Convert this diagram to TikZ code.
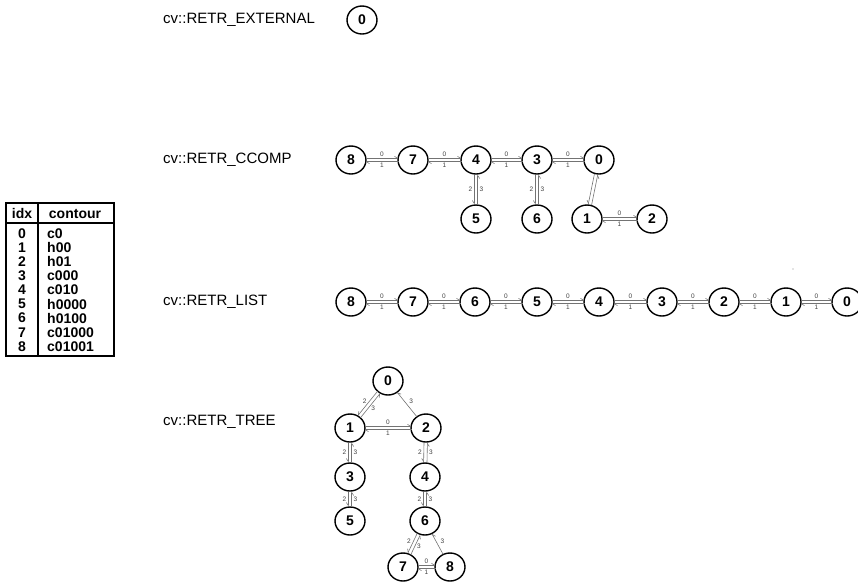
\documentclass[tikz,border=0pt]{standalone}
\usepackage{fontspec}
\setmainfont{Liberation Sans}
\usetikzlibrary{calc,arrows.meta,shapes.geometric}
\tikzset{
  st/.style={ellipse,draw,line width=1.4pt,minimum width=30pt,minimum height=28pt,inner sep=0pt,font=\fontsize{14}{14}\selectfont\bfseries},
  lab/.style={anchor=west,font=\fontsize{15}{17}\selectfont,inner sep=0pt},
  ed/.style={draw=black!55,line width=0.6pt,shorten <=14.5pt,shorten >=14.5pt},
  el/.style={font=\fontsize{6.5}{6.5}\selectfont,inner sep=0pt,text=black!75},
  hl/.style={-{Straight Barb[left,length=3pt,width=4pt]}},
  hr/.style={-{Straight Barb[right,length=3pt,width=4pt]}},
  tb/.style={font=\fontsize{14}{14}\selectfont\bfseries,inner sep=0pt},
}
\newcommand\dedge[7]{%
  \draw[ed,#7] ($(#1)!1.7pt!#3:(#2)$) -- ($(#2)!1.7pt!#4:(#1)$);
  \draw[ed,#7] ($(#2)!1.7pt!#3:(#1)$) -- ($(#1)!1.7pt!#4:(#2)$);
  \coordinate (mid) at ($(#1)!0.5!(#2)$);
  \node[el] at ($(mid)!5.5pt!#3:(#2)$) {#5};
  \node[el] at ($(mid)!5.5pt!#4:(#2)$) {#6};
}
\newcommand\sedge[3]{%
  \draw[ed,hr] (#1.center) -- (#2.center);
  \coordinate (mid) at ($(#1)!0.5!(#2)$);
  \node[el] at ($(mid)!5.5pt!#3:(#2)$) {3};
}
\begin{document}
\begin{tikzpicture}[x=1pt,y=-1pt]
\useasboundingbox (0,0) rectangle (858,582);

% table
\draw[line width=1.6pt] (6,203) rectangle (114,356);
\draw[line width=1.5pt] (38,203) -- (38,356);
\draw[line width=1.5pt] (6,223) -- (114,223);
\node[tb] (hidx) at (22,213.5) {idx};
\node[tb] (hcon) at (75,213.5) {contour};
\foreach \i/\c in {0/c0,1/h00,2/h01,3/c000,4/c010,5/h0000,6/h0100,7/c01000,8/c01001}{
  \node[tb] (ti\i) at (22,{233.5+14.1*\i}) {\i};
  \node[tb,anchor=west] (tc\i) at (47,{233.5+14.1*\i}) {\c};
}

% labels
\node[lab] (lext) at (163,20) {cv::RETR\_EXTERNAL};
\node[lab] (lcc) at (163,160) {cv::RETR\_CCOMP};
\node[lab] (lli) at (163,302) {cv::RETR\_LIST};
\node[lab] (ltr) at (163,422) {cv::RETR\_TREE};

% EXTERNAL
\node[st] (e0) at (362,20) {0};

% CCOMP
\node[st] (c8) at (351,160) {8};
\node[st] (c7) at (413,160) {7};
\node[st] (c4) at (476,160) {4};
\node[st] (c3) at (537,160) {3};
\node[st] (c0) at (599,160) {0};
\node[st] (c5) at (476,219) {5};
\node[st] (c6) at (537,219) {6};
\node[st] (c1) at (587,219) {1};
\node[st] (c2) at (652,219) {2};
\dedge{c8}{c7}{90}{-90}{0}{1}{hl}
\dedge{c7}{c4}{90}{-90}{0}{1}{hl}
\dedge{c4}{c3}{90}{-90}{0}{1}{hl}
\dedge{c3}{c0}{90}{-90}{0}{1}{hl}
\dedge{c1}{c2}{90}{-90}{0}{1}{hl}
\dedge{c4}{c5}{-90}{90}{2}{3}{hr}
\dedge{c3}{c6}{-90}{90}{2}{3}{hr}
\dedge{c0}{c1}{-90}{90}{}{}{hr}

% LIST
\foreach \n/\x in {8/351,7/413,6/475,5/537,4/599,3/662,2/724,1/786,0/847}{
  \node[st] (l\n) at (\x,302) {\n};
}
\dedge{l8}{l7}{90}{-90}{0}{1}{hl}
\dedge{l7}{l6}{90}{-90}{0}{1}{hl}
\dedge{l6}{l5}{90}{-90}{0}{1}{hl}
\dedge{l5}{l4}{90}{-90}{0}{1}{hl}
\dedge{l4}{l3}{90}{-90}{0}{1}{hl}
\dedge{l3}{l2}{90}{-90}{0}{1}{hl}
\dedge{l2}{l1}{90}{-90}{0}{1}{hl}
\dedge{l1}{l0}{90}{-90}{0}{1}{hl}
\fill[black!45] (793,269) circle (0.6);

% TREE
\node[st] (t0) at (388,381) {0};
\node[st] (t1) at (350,428) {1};
\node[st] (t2) at (426,428) {2};
\node[st] (t3) at (350,477) {3};
\node[st] (t4) at (425,477) {4};
\node[st] (t5) at (350,521) {5};
\node[st] (t6) at (425,521) {6};
\node[st] (t7) at (403,567) {7};
\node[st] (t8) at (450,567) {8};
\dedge{t0}{t1}{-90}{90}{2}{3}{hr}
\dedge{t1}{t2}{90}{-90}{0}{1}{hl}
\dedge{t1}{t3}{-90}{90}{2}{3}{hr}
\dedge{t3}{t5}{-90}{90}{2}{3}{hr}
\dedge{t2}{t4}{-90}{90}{2}{3}{hr}
\dedge{t4}{t6}{-90}{90}{2}{3}{hr}
\dedge{t6}{t7}{-90}{90}{2}{3}{hr}
\dedge{t7}{t8}{90}{-90}{0}{1}{hl}
\sedge{t2}{t0}{-90}
\sedge{t8}{t6}{-90}
\end{tikzpicture}
\end{document}
